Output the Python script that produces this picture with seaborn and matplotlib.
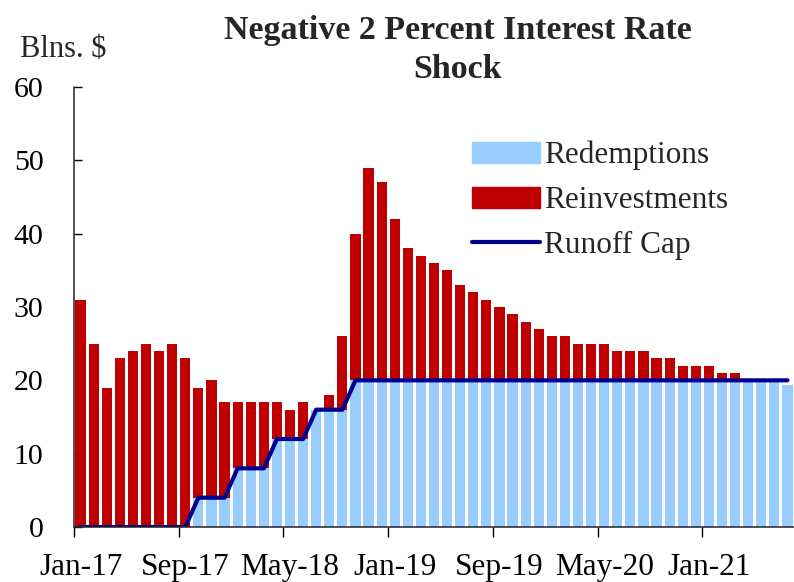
import numpy as np
import pandas as pd
import matplotlib
matplotlib.use("Agg")
import matplotlib.pyplot as plt
import matplotlib.patches as mpatches
import matplotlib.lines as mlines
import seaborn as sns

# Monthly categories Jan-17 .. Jul-21
months = list(pd.date_range("2017-01-01", periods=55, freq="MS").strftime("%b-%y"))

# Bns. of dollars
redemptions = [0, 0, 0, 0, 0, 0, 0, 0, 0,
               4, 4, 4,
               8, 8, 8,
               12, 12, 12,
               16, 16, 16,
               20, 20, 20, 20, 20, 20, 20, 20, 20, 20,
               20, 20, 20, 20, 20, 20, 20, 20, 20, 20,
               20, 20, 20, 20, 20, 20, 20, 20, 20, 20,
               20, 20, 20, 19.3]
reinvestments = [31, 25, 19, 23, 24, 25, 24, 25, 23,
                 15, 16, 13,
                 9, 9, 9,
                 5, 4, 5,
                 0, 2, 10,
                 20, 29, 27, 22, 18, 17, 16, 15, 13, 12,
                 11, 10, 9, 8, 7, 6, 6, 5, 5, 5,
                 4, 4, 4, 3, 3, 2, 2, 2, 1, 1,
                 0, 0, 0, 0]
runoff_cap = [0, 0, 0, 0, 0, 0, 0, 0, 0,
              4, 4, 4,
              8, 8, 8,
              12, 12, 12,
              16, 16, 16] + [20] * 34

tick_labels = ["Jan-17", "Sep-17", "May-18", "Jan-19", "Sep-19", "May-20", "Jan-21"]

blue = "#99CCFF"
red = "#C00000"
navy = "#000090"

df = pd.DataFrame({"month": months,
                   "redemptions": redemptions,
                   "reinvestments": reinvestments,
                   "cap": runoff_cap})
df["total"] = df["redemptions"] + df["reinvestments"]

sns.set_theme(style="white")
plt.rcParams["font.family"] = ["Liberation Serif", "DejaVu Serif"]

fig = plt.figure(figsize=(7.94, 5.82), dpi=100)
ax = fig.add_axes([74 / 794, 1 - 527 / 582, 720 / 794, 440 / 582])

# stacked bars: total in red first, redemptions in blue over it
sns.barplot(data=df, x="month", y="total", color=red, saturation=1,
            width=0.78, linewidth=0, errorbar=None, ax=ax)
sns.barplot(data=df, x="month", y="redemptions", color=blue, saturation=1,
            width=0.78, linewidth=0, errorbar=None, ax=ax)
sns.lineplot(data=df, x="month", y="cap", color=navy, linewidth=3,
             errorbar=None, sort=False, ax=ax)

ax.set_xlim(-0.5, len(months) - 0.5)
ax.set_ylim(0, 60)
ax.set_yticks(range(0, 61, 10))
ax.set_xlabel("")
ax.set_ylabel("")

# labels under the month, tick marks on the month boundary
pos = [months.index(m) for m in tick_labels]
ax.set_xticks(pos)
ax.set_xticklabels(tick_labels)
ax.set_xticks([p - 0.5 for p in pos], minor=True)
ax.tick_params(axis="x", which="major", length=0, pad=19, labelsize=22.5, colors="black")
ax.tick_params(axis="x", which="minor", length=7, width=1, direction="out",
               bottom=True, color="black")
ax.tick_params(axis="y", length=6, width=1, direction="in", left=True,
               pad=22, labelsize=21.5, colors="black")

for s in ["top", "right"]:
    ax.spines[s].set_visible(False)
for s in ["left", "bottom"]:
    ax.spines[s].set_color("#222222")
    ax.spines[s].set_linewidth(1.1)

handles = [mpatches.Patch(color=blue, label="Redemptions"),
           mpatches.Patch(color=red, label="Reinvestments"),
           mlines.Line2D([], [], color=navy, linewidth=3, label="Runoff Cap")]
fig.legend(handles=handles, loc="upper left",
           bbox_to_anchor=(472 / 794, 1 - 141 / 582), frameon=False,
           fontsize=22.5, handlelength=2.18, handleheight=0.65,
           handletextpad=0.12, labelspacing=0.5, borderpad=0, borderaxespad=0)

fig.text(457.5 / 794, 1 - 39 / 582, "Negative 2 Percent Interest Rate",
         ha="center", va="baseline", fontsize=24.5, fontweight="bold")
fig.text(458 / 794, 1 - 78 / 582, "Shock",
         ha="center", va="baseline", fontsize=24.5, fontweight="bold")
fig.text(20 / 794, 1 - 57 / 582, "Blns. $", ha="left", va="baseline", fontsize=22)

fig.savefig("out.png", dpi=100)
